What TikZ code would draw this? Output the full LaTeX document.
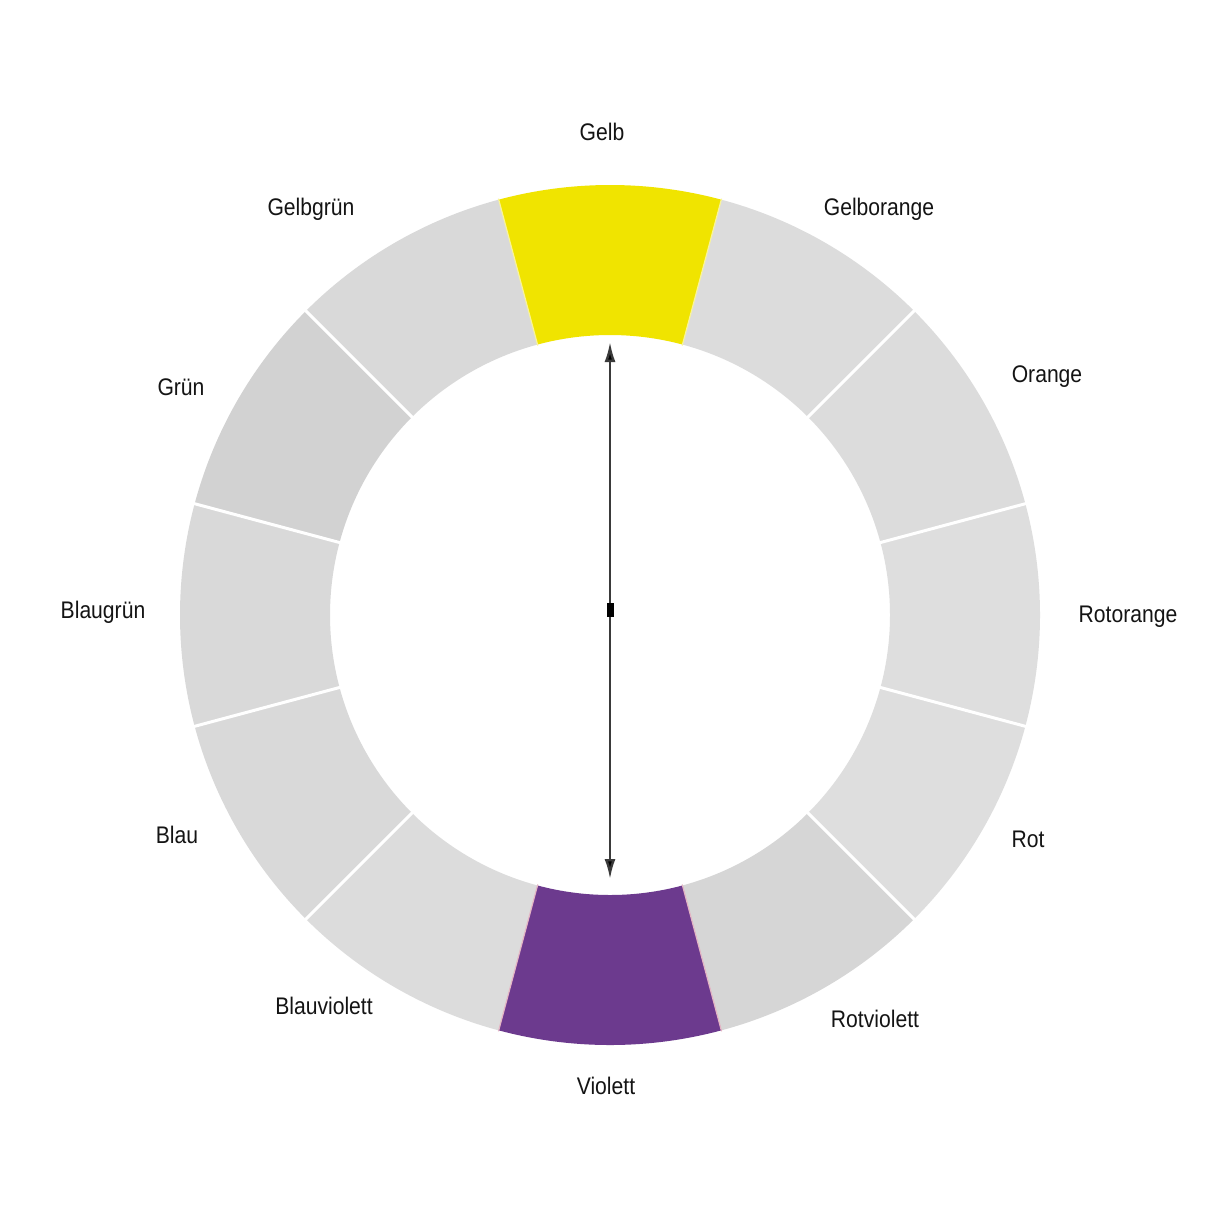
\documentclass[tikz,border=0pt]{standalone}
\usepackage{fontspec}
\setmainfont{Liberation Sans}[FakeStretch=0.88]
\usetikzlibrary{arrows.meta,calc}
\definecolor{ylw}{HTML}{F0E400}
\definecolor{vio}{HTML}{6C3A8E}
\definecolor{gA}{HTML}{DCDCDC}
\definecolor{gB}{HTML}{D9D9D9}
\definecolor{gC}{HTML}{D2D2D2}
\definecolor{gD}{HTML}{DEDEDE}
\definecolor{gE}{HTML}{D6D6D6}
\definecolor{txt}{HTML}{141414}
\definecolor{arr}{HTML}{3A3A3A}
\tikzset{
  lbl/.style={text=txt, font=\fontsize{24}{28}\selectfont, inner sep=0pt},
  sep/.style={white, line width=3pt},
  dbl/.style={draw=arr, line width=2.4pt, {Latex[length=20pt,width=11pt,fill=black]}-{Latex[length=20pt,width=11pt,fill=black]}}
}
\newcommand{\seg}[3]{%
  \fill[#3] ($(c)+(#1:430pt)$) arc[start angle=#1, end angle=#2, radius=430pt]
    -- ($(c)+(#2:280pt)$) arc[start angle=#2, end angle=#1, radius=280pt] -- cycle;}
\begin{document}
\begin{tikzpicture}[x=1pt,y=1pt]
\useasboundingbox[fill=white] (0,0) rectangle (1214,-1208);
\coordinate (c) at (610,-615);
% segments (clockwise from top)
\seg{75}{105}{ylw}
\seg{45}{75}{gA}
\seg{15}{45}{gA}
\seg{-15}{15}{gD}
\seg{-45}{-15}{gD}
\seg{-75}{-45}{gE}
\seg{-105}{-75}{vio}
\seg{-135}{-105}{gA}
\seg{-165}{-135}{gB}
\seg{165}{195}{gB}
\seg{135}{165}{gC}
\seg{105}{135}{gB}
% separators
\foreach \a in {45,15,-15,-45,-135,-165,165,135} {
  \draw[sep] ($(c)+(\a:277pt)$) -- ($(c)+(\a:433pt)$);
}
\foreach \a in {75,105} {
  \draw[white!60!ylw, line width=1.2pt] ($(c)+(\a:279pt)$) -- ($(c)+(\a:431pt)$);
}
\foreach \a in {-75,-105} {
  \draw[white!55!vio!40!pink, line width=1.2pt] ($(c)+(\a:279pt)$) -- ($(c)+(\a:431pt)$);
}
% arrow
\coordinate (top) at (610,-342);
\coordinate (bot) at (610,-879);
\coordinate (mid) at (610,-610);
\draw[dbl] (top) -- (bot);
\fill[black] ($(mid)+(-3.5pt,-7pt)$) rectangle ($(mid)+(3.5pt,7pt)$);
% labels
\node[lbl] (gelb) at (602,-132) {Gelb};
\node[lbl] (gelborange) at (879,-209) {Gelborange};
\node[lbl] (orange) at (1047,-377) {Orange};
\node[lbl] (rotorange) at (1128,-617) {Rotorange};
\node[lbl] (rot) at (1028,-839) {Rot};
\node[lbl] (rotviolett) at (875,-1019) {Rotviolett};
\node[lbl] (violett) at (606,-1086) {Violett};
\node[lbl] (blauviolett) at (324,-1006) {Blauviolett};
\node[lbl] (blau) at (177,-835) {Blau};
\node[lbl] (blaugruen) at (103,-612) {Blaugrün};
\node[lbl] (gruen) at (181,-387) {Grün};
\node[lbl] (gelbgruen) at (311,-209) {Gelbgrün};
\end{tikzpicture}
\end{document}
